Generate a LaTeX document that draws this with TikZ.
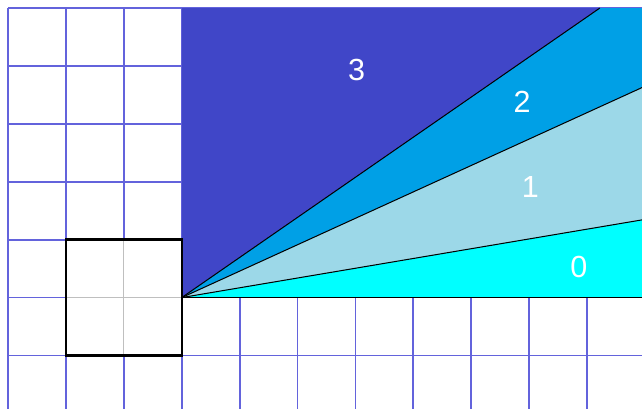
\documentclass[tikz,border=0pt]{standalone}
\usepackage{fontspec}
\setsansfont{Liberation Sans}
\definecolor{gridblue}{RGB}{72,72,214}
\definecolor{zonethree}{RGB}{64,70,200}
\definecolor{zonetwo}{RGB}{0,160,230}
\definecolor{zoneone}{RGB}{156,216,232}
\definecolor{zonezero}{RGB}{0,255,255}
\tikzset{
  zonelabel/.style={text=white,font=\sffamily\fontsize{15}{18}\selectfont},
  zoneline/.style={black,line width=0.5pt}
}
\begin{document}
\begin{tikzpicture}
        \useasboundingbox (-3.14,-1.91) rectangle (7.95,5.14);
        \draw [gridblue!85,line width=0.9pt] (-3,-2) grid (8,5);
        \coordinate (O) at (0,0);
        \coordinate (A) at (8,1.35);
        \coordinate (B) at (8,3.65);
        \coordinate (C) at (7.22,5);
        \fill [zonethree] (O) -- (0,5) -- (C) -- cycle;
        \fill [zonetwo] (O) -- (C) -- (8,5) -- (B) -- cycle;
        \fill [zoneone] (O) -- (B) -- (A) -- cycle;
        \fill [zonezero] (O) -- (A) -- (8,0) -- cycle;
        \draw [zoneline] (O) -- (A);
        \draw [zoneline] (O) -- (B);
        \draw [zoneline] (O) -- (C);
        \draw [black,line width=0.8pt] (O) -- (8,0);
        % the unit square
        \fill [white] (-2,-1) rectangle (0,1);
        \draw [gray!50,line width=0.6pt] (-1,-1) -- (-1,1);
        \draw [gray!50,line width=0.6pt] (-2,0) -- (0,0);
        \draw [black,line width=1.2pt] (-2,-1) rectangle (0,1);
        \node [zonelabel] (three) at (3.02,3.93) {3};
        \node [zonelabel] (two) at (5.88,3.38) {2};
        \node [zonelabel] (one) at (6.02,1.91) {1};
        \node [zonelabel] (zero) at (6.86,0.52) {0};
\end{tikzpicture}
\end{document}
